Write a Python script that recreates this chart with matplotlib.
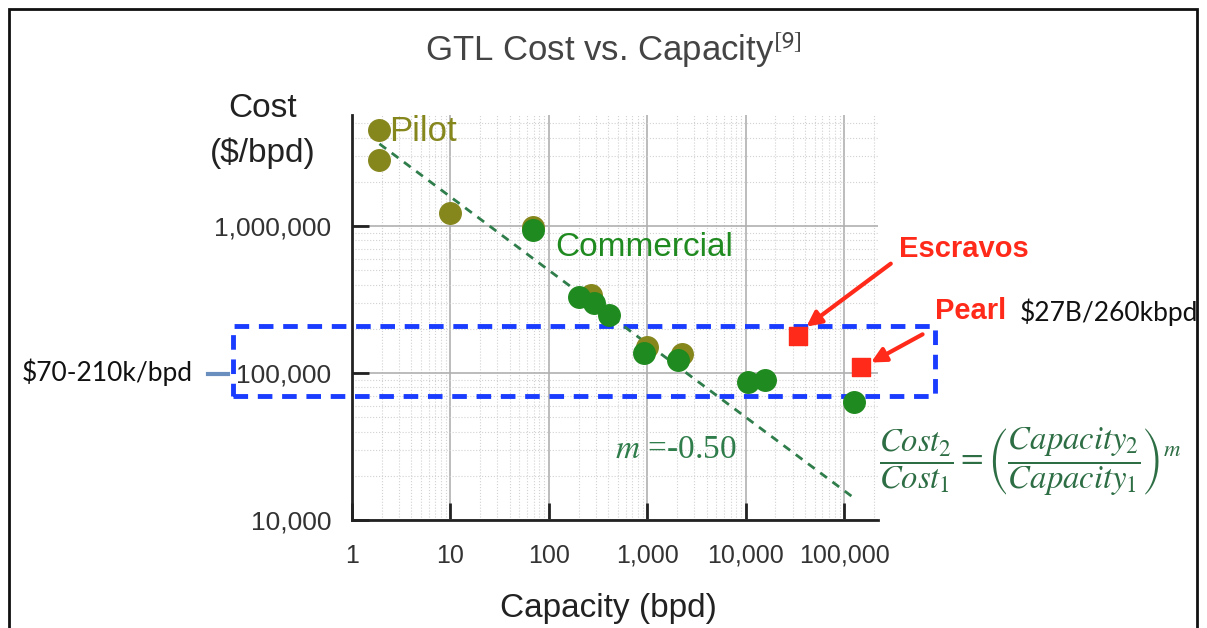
import matplotlib.pyplot as plt
from matplotlib.patches import Rectangle
import numpy as np

plt.rcParams['font.family'] = ['Liberation Sans', 'DejaVu Sans']
plt.rcParams['mathtext.fontset'] = 'stix'

# pilot plants (olive)
pilot_cap = [1.9, 1.9, 10, 69, 268, 1000, 2260]
pilot_cost = [4.5e6, 2.8e6, 1.23e6, 9.8e5, 3.4e5, 1.5e5, 1.35e5]

# commercial plants (green)
comm_cap = [69, 203, 286, 405, 935, 2060, 10400, 15500, 125000]
comm_cost = [9.4e5, 3.3e5, 3.0e5, 2.5e5, 1.37e5, 1.22e5, 8.7e4, 9.0e4, 6.4e4]

# named plants (red squares)
named = ['Escravos', 'Pearl']
named_cap = [34000, 147000]
named_cost = [1.8e5, 1.1e5]

# scaling trend line, cost = k * capacity^m
m = -0.50
k = 5.0e6
trend_cap = [1.9, 125000]

band_lo, band_hi = 7.0e4, 2.1e5

W, H = 1207, 628
fig = plt.figure(figsize=(W / 100, H / 100), dpi=100)
ax = fig.add_axes([352 / W, 1 - 520 / H, (878 - 352) / W, (520 - 115) / H])

def fx(px):
    return px / W

def fy(py):
    return 1 - py / H

ax.set_xscale('log')
ax.set_yscale('log')
ax.set_xlim(1, 2.2e5)
ax.set_ylim(1e4, 5.7e6)

# grid
ax.grid(True, which='major', color='#b0b0b0', lw=1.2)
ax.grid(True, which='minor', color='#d2d2d2', lw=0.8, ls=':')
ax.set_axisbelow(True)

for s in ['top', 'right']:
    ax.spines[s].set_visible(False)
for s in ['left', 'bottom']:
    ax.spines[s].set_linewidth(2)
    ax.spines[s].set_color('#222222')

ax.set_xticks([1, 10, 100, 1000, 10000, 100000])
ax.set_xticklabels(['1', '10', '100', '1,000', '10,000', '100,000'])
ax.set_yticks([1e4, 1e5, 1e6])
ax.set_yticklabels(['10,000', '100,000', '1,000,000'])
ax.tick_params(which='major', direction='in', length=12, width=2, color='#222222',
               labelcolor='#333333')
ax.tick_params(axis='x', labelsize=18, pad=17)
ax.tick_params(axis='y', labelsize=19, pad=15)
ax.tick_params(which='minor', length=0)

# blue band
xa, xb = 10 ** ((230 - 349) / 98.5), 10 ** ((932 - 349) / 98.5)
ax.add_patch(Rectangle((xa, band_lo), xb - xa, band_hi - band_lo, fill=False,
                       ec='#1a3cff', lw=3.5, ls=(0, (3, 2)), clip_on=False, zorder=2))

# trend line
tc = np.array(trend_cap)
ax.plot(tc, k * tc ** m, ls=(0, (3, 2.5)), color='#2e7d4a', lw=2, zorder=3)

ax.scatter(pilot_cap, pilot_cost, s=240, color='#85861c', zorder=4)
ax.scatter(comm_cap, comm_cost, s=240, color='#1f8a1f', zorder=5)
ax.scatter(named_cap, named_cost, s=170, marker='s', color='#ff2a1a', zorder=5)

# arrows to named plants
ax.annotate('', xy=(named_cap[0] * 1.15, named_cost[0] * 1.12), xycoords='data',
            xytext=(fx(893), fy(262)), textcoords='figure fraction',
            arrowprops=dict(arrowstyle='-|>', color='#ff2a1a', lw=3, mutation_scale=22),
            annotation_clip=False)
ax.annotate('', xy=(named_cap[1] * 1.2, named_cost[1] * 1.05), xycoords='data',
            xytext=(fx(925), fy(333)), textcoords='figure fraction',
            arrowprops=dict(arrowstyle='-|>', color='#ff2a1a', lw=3, mutation_scale=22),
            annotation_clip=False)

# text labels
fig.text(fx(425), fy(50), r'GTL Cost vs. Capacity$^{\mathsf{[9]}}$', ha='left', va='center',
         fontsize=25, color='#444444')
fig.text(fx(263), fy(131), 'Cost\n($/bpd)', ha='center', va='center', fontsize=24,
         color='#222222', linespacing=1.55)
fig.text(fx(608), fy(608), 'Capacity (bpd)', ha='center', va='center', fontsize=24,
         color='#222222')
fig.text(fx(389), fy(132), 'Pilot', ha='left', va='center', fontsize=25, color='#85861c')
fig.text(fx(555), fy(248), 'Commercial', ha='left', va='center', fontsize=24,
         color='#1f8a1f')
fig.text(fx(899), fy(249), 'Escravos', ha='left', va='center', fontsize=21,
         color='#ff2a1a', fontweight='bold')
fig.text(fx(935), fy(311), 'Pearl', ha='left', va='center', fontsize=21,
         color='#ff2a1a', fontweight='bold')
fig.text(fx(1020), fy(312), '$27B/260kbpd', ha='left', va='center', fontsize=19,
         color='#111111', family=['Lato', 'DejaVu Sans'])
fig.text(fx(22), fy(372), '$70-210k/bpd', ha='left', va='center', fontsize=19,
         color='#111111', family=['Lato', 'DejaVu Sans'])
fig.add_artist(plt.Line2D([fx(208), fx(228)], [fy(374), fy(374)], color='#6a8fbf', lw=3))
fig.text(fx(615), fy(450), r'$m$ =-0.50', ha='left', va='center', fontsize=24,
         color='#2e7d4a', family=['Liberation Serif'])
fig.text(fx(1030), fy(462),
         r'$\dfrac{Cost_2}{Cost_1}=\left(\dfrac{Capacity_2}{Capacity_1}\right)^m$',
         ha='center', va='center', fontsize=23.5, color='#2e6e45')

# outer frame
fig.add_artist(Rectangle((fx(9), -0.02), fx(1197) - fx(9), fy(9) + 0.02, transform=fig.transFigure,
                         fill=False, ec='#111111', lw=2))

fig.savefig('out.png', dpi=100)
